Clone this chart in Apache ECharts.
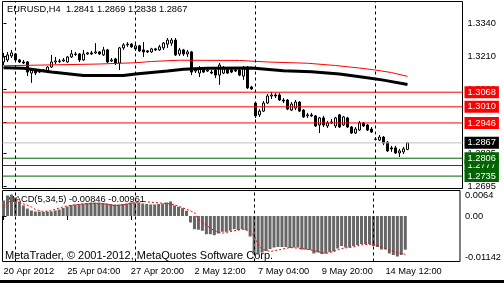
<!DOCTYPE html>
<html><head><meta charset="utf-8">
<script src="https://cdn.jsdelivr.net/npm/echarts@6/dist/echarts.min.js"></script>
<style>html,body{margin:0;padding:0;background:#000;overflow:hidden}#c{width:504px;height:280px;background:#fff}</style>
</head><body><div id="c"></div>
<script>
const symbolTitle = 'EURUSD,H4  1.2841 1.2869 1.2838 1.2867';
const macdTitle = 'MACD(5,34,5) -0.00846 -0.00961';
const copyright = 'MetaTrader, \u00a9 2001-2012, MetaQuotes Software Corp.';

// H4 bars, [open, close, low, high]
const candles = [
[1.3188,1.3208,1.3176,1.3224],[1.3196,1.3216,1.3188,1.3228],[1.3212,1.3224,1.3204,1.3236],[1.3220,1.3196,1.3188,1.3224],
[1.3196,1.3188,1.3184,1.3200],[1.3188,1.3184,1.3180,1.3196],[1.3188,1.3148,1.3132,1.3192],[1.3144,1.3156,1.3105,1.3164],
[1.3156,1.3144,1.3136,1.3160],[1.3148,1.3152,1.3144,1.3156],[1.3152,1.3156,1.3148,1.3160],[1.3148,1.3168,1.3144,1.3172],
[1.3168,1.3188,1.3164,1.3216],[1.3188,1.3192,1.3180,1.3208],[1.3192,1.3190,1.3184,1.3200],[1.3192,1.3196,1.3188,1.3204],
[1.3188,1.3208,1.3184,1.3212],[1.3208,1.3220,1.3204,1.3236],[1.3220,1.3218,1.3212,1.3228],[1.3220,1.3196,1.3188,1.3224],
[1.3196,1.3220,1.3192,1.3236],[1.3220,1.3224,1.3216,1.3228],[1.3224,1.3220,1.3216,1.3232],[1.3224,1.3228,1.3220,1.3263],
[1.3228,1.3220,1.3216,1.3232],[1.3216,1.3236,1.3212,1.3248],[1.3236,1.3188,1.3184,1.3240],[1.3192,1.3196,1.3188,1.3204],
[1.3200,1.3184,1.3176,1.3204],[1.3184,1.3244,1.3156,1.3248],[1.3244,1.3256,1.3236,1.3263],[1.3256,1.3259,1.3248,1.3267],
[1.3259,1.3248,1.3244,1.3263],[1.3240,1.3252,1.3232,1.3259],[1.3252,1.3232,1.3228,1.3256],[1.3236,1.3228,1.3208,1.3267],
[1.3232,1.3228,1.3224,1.3236],[1.3228,1.3240,1.3224,1.3244],[1.3240,1.3236,1.3232,1.3244],[1.3236,1.3248,1.3232,1.3256],
[1.3244,1.3263,1.3236,1.3267],[1.3259,1.3275,1.3244,1.3283],[1.3263,1.3275,1.3252,1.3283],[1.3275,1.3216,1.3212,1.3283],
[1.3220,1.3236,1.3212,1.3244],[1.3236,1.3220,1.3212,1.3240],[1.3220,1.3228,1.3208,1.3236],[1.3228,1.3148,1.3136,1.3232],
[1.3152,1.3156,1.3144,1.3164],[1.3144,1.3164,1.3128,1.3172],[1.3164,1.3148,1.3144,1.3168],[1.3152,1.3156,1.3148,1.3164],
[1.3148,1.3144,1.3140,1.3156],[1.3156,1.3136,1.3124,1.3160],[1.3136,1.3176,1.3097,1.3184],[1.3144,1.3164,1.3140,1.3172],
[1.3160,1.3144,1.3140,1.3164],[1.3156,1.3148,1.3144,1.3160],[1.3156,1.3152,1.3148,1.3160],[1.3156,1.3136,1.3132,1.3160],
[1.3132,1.3164,1.3117,1.3172],[1.3168,1.3085,1.3081,1.3172],[1.3089,1.3081,1.3077,1.3093],[1.3025,1.2974,1.2966,1.3029],
[1.2978,1.2993,1.2970,1.3001],[1.2993,1.3025,1.2990,1.3033],[1.3025,1.3053,1.3021,1.3061],[1.3053,1.3057,1.3041,1.3069],
[1.3057,1.3053,1.3045,1.3065],[1.3057,1.3037,1.3033,1.3065],[1.3037,1.3033,1.3025,1.3045],[1.3037,1.3001,1.2997,1.3041],
[1.2997,1.3021,1.2993,1.3029],[1.3005,1.3029,1.2997,1.3037],[1.3029,1.2993,1.2990,1.3033],[1.2997,1.2970,1.2966,1.3001],
[1.2974,1.2978,1.2966,1.2986],[1.2978,1.2974,1.2970,1.2986],[1.2974,1.2934,1.2930,1.2978],[1.2938,1.2966,1.2906,1.2970],
[1.2966,1.2938,1.2930,1.2974],[1.2934,1.2946,1.2926,1.2954],[1.2946,1.2950,1.2942,1.2962],[1.2934,1.2966,1.2926,1.2970],
[1.2978,1.2930,1.2926,1.2982],[1.2938,1.2970,1.2934,1.2974],[1.2966,1.2930,1.2926,1.2970],[1.2930,1.2906,1.2902,1.2934],
[1.2906,1.2922,1.2902,1.2930],[1.2918,1.2946,1.2914,1.2954],[1.2946,1.2934,1.2930,1.2950],[1.2938,1.2918,1.2914,1.2942],
[1.2922,1.2910,1.2906,1.2930],[1.2882,1.2881,1.2878,1.2890],[1.2878,1.2890,1.2874,1.2898],[1.2890,1.2866,1.2858,1.2894],
[1.2870,1.2835,1.2831,1.2874],[1.2847,1.2843,1.2831,1.2855],[1.2847,1.2827,1.2823,1.2855],[1.2827,1.2835,1.2811,1.2843],
[1.2831,1.2843,1.2823,1.2851],[1.2841,1.2867,1.2838,1.2869]
];

// moving averages read at sample bars: [barIndex, price]
const maSlow = [[0,1.3165],[5,1.3163],[12,1.3148],[20,1.3134],[30,1.3134],[33,1.3140],[41,1.3152],[45,1.3159],[51,1.3163],[62,1.3164],[70,1.3153],[77,1.3149],[84,1.3140],[90,1.3127],[95,1.3116],[101,1.3099]];
const maFast = [[0,1.3173],[24,1.3180],[33,1.3185],[37,1.3190],[44,1.3195],[59,1.3194],[66,1.3188],[76,1.3183],[83,1.3174],[89,1.3164],[93,1.3156],[97,1.3146],[101,1.3131]];

const macdHist = [
0.00389,0.00515,0.00540,0.00464,0.00364,0.00264,0.00188,0.00138,0.00113,0.00113,
0.00100,0.00113,0.00113,0.00138,0.00163,0.00201,0.00238,0.00276,0.00289,0.00301,
0.00314,0.00326,0.00339,0.00339,0.00339,0.00326,0.00314,0.00301,0.00289,0.00289,
0.00301,0.00314,0.00339,0.00339,0.00339,0.00314,0.00301,0.00289,0.00289,0.00301,
0.00314,0.00339,0.00364,0.00264,0.00231,0.00196,0.00131,-0.00163,-0.00331,-0.00346,
-0.00371,-0.00457,-0.00457,-0.00482,-0.00439,-0.00397,-0.00397,-0.00371,-0.00331,-0.00356,
-0.00331,-0.00356,-0.00515,-0.00966,-0.00966,-0.00916,-0.00879,-0.00828,-0.00791,-0.00778,
-0.00778,-0.00778,-0.00803,-0.00791,-0.00791,-0.00841,-0.00841,-0.00853,-0.00941,-0.00916,
-0.00954,-0.00941,-0.00904,-0.00891,-0.00816,-0.00753,-0.00791,-0.00791,-0.00753,-0.00728,
-0.00703,-0.00703,-0.00703,-0.00753,-0.00778,-0.00841,-0.00841,-0.00941,-0.00979,-0.01017,
-0.00979,-0.00846
];
const macdSignal = [[0,0.00213],[1,0.00339],[3,0.00422],[4,0.00339],[7,0.00231],[8,0.00163],[10,0.00113],[12,0.00131],[13,0.00171],[16,0.00256],[19,0.00296],[23,0.00314],[26,0.00296],[28,0.00256],[31,0.00296],[33,0.00339],[35,0.00364],[38,0.00339],[41,0.00314],[43,0.00281],[46,0.00171],[48,0.00088],[49,-0.00080],[51,-0.00238],[53,-0.00371],[55,-0.00432],[58,-0.00371],[60,-0.00331],[62,-0.00371],[63,-0.00497],[64,-0.00708],[65,-0.00833],[67,-0.00891],[70,-0.00833],[72,-0.00791],[75,-0.00816],[77,-0.00848],[80,-0.00916],[81,-0.00941],[83,-0.00891],[85,-0.00816],[88,-0.00773],[90,-0.00723],[93,-0.00708],[95,-0.00773],[97,-0.00858],[99,-0.00916],[101,-0.00961]];

const resistanceLevels = [1.3068, 1.3010, 1.2946];
const supportLevels = [1.2806, 1.2777, 1.2735];
const supportLayer = [2, 1, 3];   // stacking order of the overlapping support tags
const lastPrice = 1.2867;
const weekStarts = [3, 33, 63, 93];

const timeTickIdx = [0, 16, 32, 48, 64, 80, 96];
const timeTickLabels = ['20 Apr 2012','25 Apr 04:00','27 Apr 20:00','2 May 12:00','7 May 04:00','9 May 20:00','14 May 12:00'];
const priceTicks = [1.2695, 1.2825, 1.2950, 1.3080, 1.3210, 1.3340];
const priceTickLabels = ['1.2695','1.2825','1.2950','1.3080','1.3210','1.3340'];
const macdTicks = [-0.01142, 0, 0.0064];
const macdTickLabels = ['-0.01142','0.00','0.0064'];

const FONT = 'Liberation Sans';
const FS = 9.3;
function lookup(v, vals, labels) {
  for (let k = 0; k < vals.length; k++) if (Math.abs(vals[k] - v) < 1e-7) return labels[k];
  return '';
}
// each horizontal level is a flat line series across the plot with an end tag
function levelSeries(v, color, bg, z) {
  return {
    type: 'line', xAxisIndex: 0, yAxisIndex: 0, silent: true, symbol: 'none', z: z,
    data: [[-0.25, v], [114.75, v]],
    lineStyle: {color: color, width: 1},
    endLabel: {show: true, distance: 2, formatter: v.toFixed(4),
      color: '#fff', backgroundColor: bg, padding: [2, 3, 1, 3],
      fontFamily: FONT, fontSize: FS}
  };
}
function sepSeries(xi, yi) {
  return {
    type: 'line', xAxisIndex: xi, yAxisIndex: yi, silent: true, symbol: 'none', data: [],
    markLine: {symbol: 'none', silent: true, animation: false,
      data: weekStarts.map(i => ({xAxis: i})),
      lineStyle: {color: '#000', type: [3, 3], width: 1}, label: {show: false}}
  };
}

const chart = echarts.init(document.getElementById('c'), null, {renderer: 'canvas'});
const xCommon = {type: 'value', min: -0.25, max: 114.75, splitLine: {show: false}};
const levels = []
  .concat(resistanceLevels.map(v => levelSeries(v, '#ff0000', '#ff0000', 3)))
  .concat([levelSeries(lastPrice, '#c0c0c0', '#000', 3)])
  .concat(supportLevels.map((v, k) => levelSeries(v, '#006400', '#006400', 3 + supportLayer[k] * 0.1)));
chart.setOption({
  animation: false,
  backgroundColor: '#fff',
  grid: [
    {left: 2.5, right: 41.5, top: 1.5, height: 187, show: true, borderColor: '#000', borderWidth: 1, backgroundColor: '#fff'},
    {left: 2.5, right: 41.5, top: 190.5, height: 71, show: true, borderColor: '#000', borderWidth: 1, backgroundColor: '#fff'}
  ],
  xAxis: [
    Object.assign({gridIndex: 0, show: false}, xCommon),
    Object.assign({gridIndex: 1, axisLine: {show: false},
      axisTick: {show: true, length: 4, lineStyle: {color: '#000'}, customValues: timeTickIdx},
      axisLabel: {customValues: timeTickIdx, formatter: v => lookup(v, timeTickIdx, timeTickLabels),
        align: 'left', margin: 5, color: '#000', fontFamily: FONT, fontSize: FS}}, xCommon)
  ],
  yAxis: [
    {gridIndex: 0, type: 'value', min: 1.26858, max: 1.34281, position: 'right',
      splitLine: {show: false}, axisLine: {show: false},
      axisTick: {show: true, length: 3, lineStyle: {color: '#000'}, customValues: priceTicks},
      axisLabel: {customValues: priceTicks, formatter: v => lookup(v, priceTicks, priceTickLabels),
        margin: 5, color: '#000', fontFamily: FONT, fontSize: FS}},
    {gridIndex: 1, type: 'value', min: -0.01142, max: 0.0064, position: 'right',
      splitLine: {show: false}, axisLine: {show: false},
      axisTick: {show: true, length: 3, lineStyle: {color: '#000'}, customValues: macdTicks},
      axisLabel: {customValues: macdTicks, formatter: v => lookup(v, macdTicks, macdTickLabels),
        verticalAlignMinLabel: 'bottom', verticalAlignMaxLabel: 'top',
        margin: 5, color: '#000', fontFamily: FONT, fontSize: FS}}
  ],
  series: [
    sepSeries(0, 0),
    sepSeries(1, 1),
    {type: 'line', xAxisIndex: 0, yAxisIndex: 0, data: maFast, symbol: 'none', silent: true,
      lineStyle: {color: '#ff0000', width: 1}},
    {type: 'line', xAxisIndex: 0, yAxisIndex: 0, data: maSlow, symbol: 'none', silent: true,
      lineStyle: {color: '#000', width: 3}},
    {type: 'candlestick', xAxisIndex: 0, yAxisIndex: 0, barWidth: 3,
      data: candles.map((c, i) => [i, c[0], c[1], c[2], c[3]]),
      itemStyle: {color: '#fff', color0: '#000', borderColor: '#000', borderColor0: '#000', borderWidth: 1}},
    {type: 'bar', xAxisIndex: 1, yAxisIndex: 1, barWidth: 3,
      data: macdHist.map((v, i) => [i, v]), itemStyle: {color: '#666666'}},
    {type: 'line', xAxisIndex: 1, yAxisIndex: 1, data: macdSignal, symbol: 'none', silent: true,
      lineStyle: {color: '#ff0000', width: 1, type: [2, 2]}}
  ].concat(levels),
  graphic: [
    {type: 'text', left: 7, top: 5, style: {text: symbolTitle, fill: '#000', font: FS + 'px "' + FONT + '"'}},
    {type: 'text', left: 7, top: 195, style: {text: macdTitle, fill: '#000', font: FS + 'px "' + FONT + '"'}},
    {type: 'text', left: 5, top: 250, style: {text: copyright, fill: '#000', font: '11px "' + FONT + '"'}}
  ]
});
</script></body></html>
